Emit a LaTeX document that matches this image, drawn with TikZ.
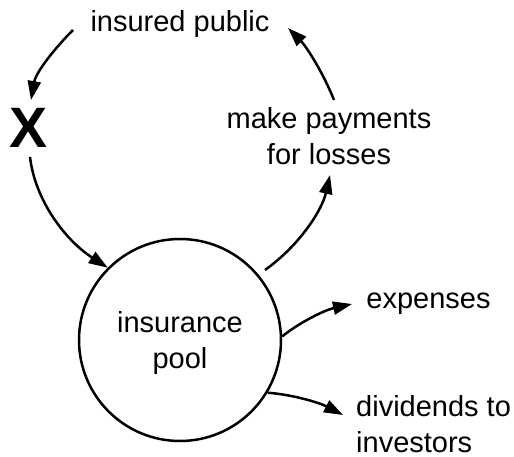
\documentclass[tikz,border=0pt]{standalone}
\usepackage{fontspec}
\setmainfont{Liberation Sans}
\usetikzlibrary{arrows.meta}
\tikzset{
  lbl/.style={inner sep=0pt, font=\fontsize{29}{36}\selectfont},
  flow/.style={line width=2.5pt, -{Triangle[length=19pt,width=13pt]}},
  poolc/.style={circle, draw, line width=2.5pt, minimum size=202pt, inner sep=0pt}
}
\begin{document}
\begin{tikzpicture}[x=1pt,y=-1pt]
\useasboundingbox (0,0) rectangle (514,457);
% nodes
\node[poolc] (pool) at (180,340) {};
\node[lbl, anchor=base, align=center] (pooltxt) at (180,368) {insurance\\pool};
\node[lbl, anchor=base] (pub) at (180,32) {insured public};
\node[inner sep=0pt, anchor=base, font=\fontsize{57}{60}\selectfont\bfseries] (x) at (29,148) {X};
\node[lbl, anchor=base, align=center] (pay) at (329,165) {make payments\\for losses};
\node[lbl, anchor=base] (exp) at (428.5,308) {expenses};
\node[lbl, anchor=base west, align=left] (div) at (356,452) {dividends to\\investors};
% connector ends
\coordinate (pubL) at (73,30);
\coordinate (xT) at (31,100);
\coordinate (xB) at (30,157);
\coordinate (poolR) at (265,270);
\coordinate (payB) at (330,175);
\coordinate (payT) at (334,100);
\coordinate (pubR) at (288,28);
\coordinate (expL) at (352,304);
\coordinate (divL) at (343,415);
% connectors
\draw[flow] (pubL) .. controls (55,48) and (36,72) .. (xT);
\draw[flow] (xB) .. controls (35,200) and (65,240) .. (pool.135);
\draw[flow] (poolR) .. controls (300,245) and (322,210) .. (payB);
\draw[flow] (payT) .. controls (322,70) and (305,45) .. (pubR);
\draw[flow] (pool.2) .. controls (300,322) and (325,310) .. (expL);
\draw[flow] (pool.-31) .. controls (295,395) and (320,403) .. (divL);
\end{tikzpicture}
\end{document}
